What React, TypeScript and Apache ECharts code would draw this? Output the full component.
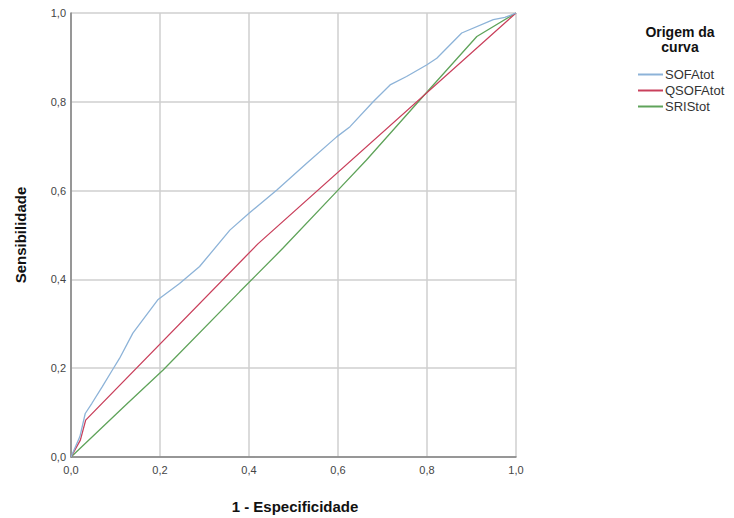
import React, { useEffect, useRef } from "react";
import * as echarts from "echarts";

const xTicks = [0, 0.2, 0.4, 0.6, 0.8, 1.0];

const sofaX = [0, 0.02, 0.032, 0.047, 0.07, 0.093, 0.109, 0.139, 0.195, 0.244, 0.289, 0.357, 0.4, 0.462, 0.529, 0.597, 0.627, 0.679, 0.717, 0.754, 0.799, 0.822, 0.878, 0.949, 0.975, 1];
const sofaY = [0, 0.046, 0.098, 0.121, 0.158, 0.196, 0.222, 0.279, 0.354, 0.391, 0.429, 0.511, 0.549, 0.601, 0.661, 0.721, 0.744, 0.8, 0.838, 0.857, 0.883, 0.898, 0.955, 0.985, 0.99, 1];

const qsofaX = [0, 0.021, 0.033, 0.42, 1];
const qsofaY = [0, 0.038, 0.083, 0.48, 1];

const sirsX = [0, 0.123, 0.207, 0.379, 0.476, 0.6, 0.664, 0.8, 0.912, 1];
const sirsY = [0, 0.117, 0.196, 0.372, 0.47, 0.601, 0.669, 0.822, 0.947, 1];

const seriesNames = ["SOFAtot", "QSOFAtot", "SRIStot"];
const seriesColors = ["#8db3d8", "#c9405c", "#5fa35a"];

const zip = (xs: number[], ys: number[]) => xs.map((x, i) => [x, ys[i]]);

const fmt = (v: number) => v.toFixed(1).replace(".", ",");
const FONT = "Liberation Sans, Arial, sans-serif";

export default function App() {
  const ref = useRef<HTMLDivElement>(null);
  useEffect(() => {
    if (!ref.current) return;
    const chart = echarts.init(ref.current, undefined, { renderer: "svg" });
    const data = [zip(sofaX, sofaY), zip(qsofaX, qsofaY), zip(sirsX, sirsY)];
    chart.setOption({
      animation: false,
      backgroundColor: "#ffffff",
      textStyle: { fontFamily: FONT },
      grid: { left: 71, right: 218, top: 13, bottom: 61 },
      xAxis: {
        type: "value",
        min: 0,
        max: 1,
        interval: 0.2,
        axisLine: { show: true, lineStyle: { color: "#808080", width: 1.5 } },
        axisTick: { show: false },
        splitLine: { show: true, lineStyle: { color: "#cfcfcf", width: 1.5 } },
        axisLabel: { formatter: fmt, color: "#444", fontSize: 11, margin: 7, fontFamily: FONT },
      },
      yAxis: {
        type: "value",
        min: 0,
        max: 1,
        interval: 0.2,
        axisLine: { show: true, lineStyle: { color: "#808080", width: 1.5 } },
        axisTick: { show: false },
        splitLine: { show: true, lineStyle: { color: "#cfcfcf", width: 1.5 } },
        axisLabel: { formatter: fmt, color: "#444", fontSize: 11, margin: 5, fontFamily: FONT },
      },
      legend: {
        orient: "vertical",
        left: 633,
        top: 63,
        itemWidth: 25,
        itemHeight: 2,
        itemGap: 3,
        icon: "rect",
        data: seriesNames,
        textStyle: { fontSize: 13, color: "#333", fontFamily: FONT, padding: [0, 0, 0, -3] },
      },
      graphic: [
        {
          type: "text",
          x: 680,
          y: 32,
          style: {
            text: "Origem da",
            font: "bold 14px " + FONT,
            fill: "#111",
            textAlign: "center",
            textVerticalAlign: "middle",
          },
        },
        {
          type: "text",
          x: 680,
          y: 47,
          style: {
            text: "curva",
            font: "bold 14px " + FONT,
            fill: "#111",
            textAlign: "center",
            textVerticalAlign: "middle",
          },
        },
        {
          type: "text",
          x: 295,
          y: 506,
          style: {
            text: "1 - Especificidade",
            font: "bold 15px " + FONT,
            fill: "#111",
            textAlign: "center",
            textVerticalAlign: "middle",
          },
        },
        {
          type: "text",
          x: 20,
          y: 235,
          rotation: Math.PI / 2,
          style: {
            text: "Sensibilidade",
            font: "bold 15px " + FONT,
            fill: "#111",
            textAlign: "center",
            textVerticalAlign: "middle",
          },
        },
      ],
      series: seriesNames.map((name, i) => ({
        name,
        type: "line",
        data: data[i],
        symbol: "none",
        lineStyle: { color: seriesColors[i], width: 1.3 },
        itemStyle: { color: seriesColors[i] },
        z: 3 - i,
      })),
    });
    return () => chart.dispose();
  }, []);
  return <div ref={ref} style={{ width: 734, height: 518, position: "absolute", left: 0, top: 0 }} />;
}
